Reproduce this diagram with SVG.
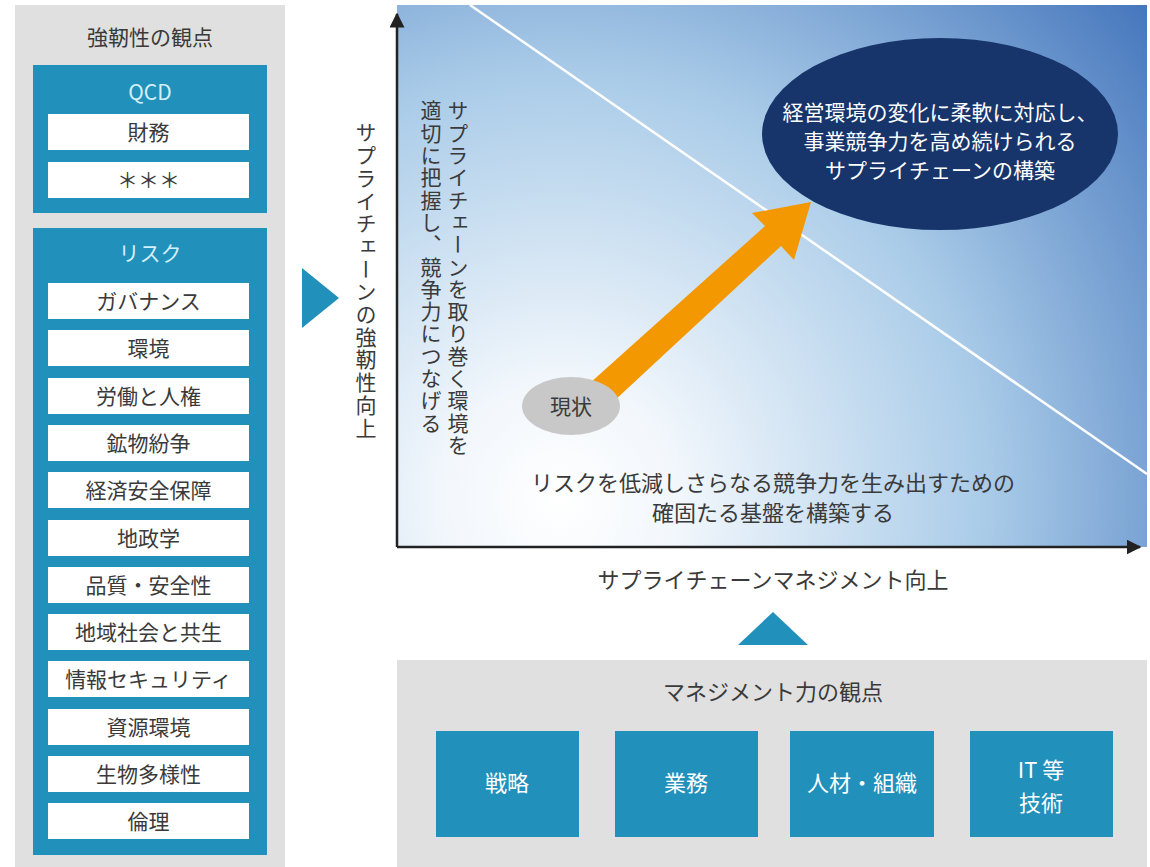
<svg xmlns="http://www.w3.org/2000/svg" width="1150" height="867" viewBox="0 0 1150 867">
<style>
text{font-family:"Noto Sans CJK JP","Noto Sans",sans-serif;}
.t{font-size:21px;fill:#3a3a3a;text-anchor:middle;}
.hd{font-size:21px;fill:#d2f0fb;text-anchor:middle;}
.w{font-size:22px;fill:#ffffff;text-anchor:middle;}
.item{fill:#ffffff;}
.blue{fill:#2190bb;}
.gray{fill:#e0e0e0;}
.v{font-size:21px;fill:#3a3a3a;writing-mode:vertical-rl;}
</style>
<defs>
<radialGradient id="bg" gradientUnits="userSpaceOnUse" cx="560" cy="500" r="780">
<stop offset="0" stop-color="#ffffff"/>
<stop offset="0.15" stop-color="#f2f7fc"/>
<stop offset="0.55" stop-color="#a9cbe8"/>
<stop offset="1" stop-color="#4273bb"/>
</radialGradient>
<marker id="ah" viewBox="0 0 10 10" refX="9" refY="5" markerWidth="6" markerHeight="6" orient="auto" markerUnits="strokeWidth">
<path d="M0,0 L10,5 L0,10 z" fill="#222"/>
</marker>
</defs>

<g id="left-panel">
<rect class="gray" x="15" y="5" width="270" height="862"/>
<text class="t" x="150" y="45">強靭性の観点</text>
</g>

<g id="qcd">
<rect class="blue" x="33" y="65" width="234" height="148"/>
<text class="hd" x="150" y="100">QCD</text>
<rect class="item" x="48" y="114" width="201" height="36"/>
<text class="t" x="148.5" y="140">財務</text>
<rect class="item" x="48" y="162" width="201" height="36"/>
<text class="t" x="148.5" y="188">＊＊＊</text>
</g>

<g id="risk">
<rect class="blue" x="33" y="228" width="234" height="627"/>
<text class="hd" x="150" y="261">リスク</text>
<rect class="item" x="48" y="283" width="201" height="36"/><text class="t" x="148.5" y="309">ガバナンス</text>
<rect class="item" x="48" y="330" width="201" height="36"/><text class="t" x="148.5" y="356">環境</text>
<rect class="item" x="48" y="378" width="201" height="36"/><text class="t" x="148.5" y="404">労働と人権</text>
<rect class="item" x="48" y="425" width="201" height="36"/><text class="t" x="148.5" y="451">鉱物紛争</text>
<rect class="item" x="48" y="472" width="201" height="36"/><text class="t" x="148.5" y="498">経済安全保障</text>
<rect class="item" x="48" y="520" width="201" height="36"/><text class="t" x="148.5" y="546">地政学</text>
<rect class="item" x="48" y="567" width="201" height="36"/><text class="t" x="148.5" y="593">品質・安全性</text>
<rect class="item" x="48" y="614" width="201" height="36"/><text class="t" x="148.5" y="640">地域社会と共生</text>
<rect class="item" x="48" y="661" width="201" height="36"/><text class="t" x="148.5" y="687">情報セキュリティ</text>
<rect class="item" x="48" y="709" width="201" height="36"/><text class="t" x="148.5" y="735">資源環境</text>
<rect class="item" x="48" y="756" width="201" height="36"/><text class="t" x="148.5" y="782">生物多様性</text>
<rect class="item" x="48" y="803" width="201" height="36"/><text class="t" x="148.5" y="829">倫理</text>
</g>

<g id="chart">
<rect x="397" y="5" width="750" height="542" fill="url(#bg)"/>
<line x1="470" y1="5" x2="1147" y2="474" stroke="#ffffff" stroke-width="2.5"/>
<text class="v" x="366" y="122" style="letter-spacing:1.7px">サプライチェーンの強靭性向上</text>
<text class="v" x="458" y="100" style="letter-spacing:1.3px">サプライチェーンを取り巻く環境を</text>
<text class="v" x="431" y="100" style="letter-spacing:1.3px">適切に把握し、競争力につなげる</text>
<text class="t" x="773" y="491" style="font-size:22px">リスクを低減しさらなる競争力を生み出すための</text>
<text class="t" x="773" y="521" style="font-size:22px">確固たる基盤を構築する</text>
<text class="t" x="773" y="588" style="font-size:22px">サプライチェーンマネジメント向上</text>
</g>

<g id="connectors">
<line x1="397" y1="547" x2="397" y2="14" stroke="#222" stroke-width="2.5" marker-end="url(#ah)"/>
<line x1="397" y1="547" x2="1140" y2="547" stroke="#222" stroke-width="2.5" marker-end="url(#ah)"/>
<polygon points="580,392 765,226 752,213 811,202 794,260 781,246 600,414" fill="#f39800"/>
<polygon points="302,268 339,298 302,328" fill="#2190bb"/>
<polygon points="773,612 808,645 738,645" fill="#2190bb"/>
</g>

<g id="current">
<ellipse cx="571" cy="406" rx="49" ry="29" fill="#c8c8c8"/>
<text class="t" x="571" y="414" style="font-size:21px">現状</text>
</g>

<g id="goal">
<ellipse cx="940" cy="134" rx="178" ry="96" fill="#17356b"/>
<text class="w" x="940" y="120" style="font-size:21px">経営環境の変化に柔軟に対応し、</text>
<text class="w" x="940" y="149" style="font-size:21px">事業競争力を高め続けられる</text>
<text class="w" x="940" y="178" style="font-size:21px">サプライチェーンの構築</text>
</g>

<g id="mgmt-panel">
<rect class="gray" x="397" y="660" width="750" height="207"/>
<text class="t" x="773" y="700" style="font-size:22px">マネジメント力の観点</text>
</g>
<g id="m-strategy">
<rect class="blue" x="436" y="731" width="143" height="106"/>
<text class="w" x="507" y="791">戦略</text>
</g>
<g id="m-ops">
<rect class="blue" x="615" y="731" width="143" height="106"/>
<text class="w" x="686" y="791">業務</text>
</g>
<g id="m-people">
<rect class="blue" x="790" y="731" width="144" height="106"/>
<text class="w" x="862" y="791">人材・組織</text>
</g>
<g id="m-it">
<rect class="blue" x="970" y="731" width="143" height="106"/>
<text class="w" x="1041" y="778">IT 等</text>
<text class="w" x="1041" y="811">技術</text>
</g>
</svg>
